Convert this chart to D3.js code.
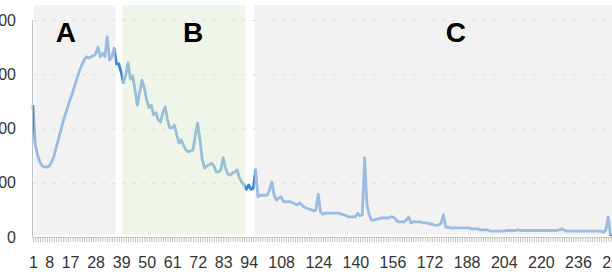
<!DOCTYPE html>
<html>
<head>
<meta charset="utf-8">
<script src="https://cdn.jsdelivr.net/npm/d3@7"></script>
<style>
  body { margin: 0; background: #fff; }
  svg { display: block; font-family: "Liberation Sans", Arial, sans-serif; }
</style>
</head>
<body>
<svg id="chart" width="612" height="276"></svg>
<script>
// values, one per category (1..252)
const values = [
    243, 170, 151, 138, 131, 129, 129, 131, 138, 148,
    165, 181, 197, 213, 227, 240, 253, 265, 279, 293,
    306, 316, 326, 332, 330, 332, 334, 337, 350, 332,
    339, 332, 369, 326, 332, 348, 319, 319, 304, 284,
    299, 321, 291, 297, 271, 243, 267, 289, 275, 253,
    238, 243, 225, 229, 216, 212, 229, 240, 216, 201,
    201, 206, 188, 173, 179, 168, 160, 157, 159, 160,
    188, 210, 179, 142, 127, 131, 133, 136, 131, 120,
    120, 124, 146, 127, 116, 114, 118, 120, 124, 109,
    101, 96, 88, 96, 88, 90, 124, 74, 77, 77,
    77, 77, 87, 101, 77, 68, 72, 74, 65, 65,
    65, 65, 63, 61, 59, 63, 59, 55, 53, 52,
    50, 48, 50, 79, 46, 42, 44, 44, 44, 44,
    44, 44, 44, 42, 41, 39, 37, 37, 37, 37,
    44, 39, 41, 146, 59, 41, 31, 31, 33, 33,
    35, 35, 35, 35, 37, 37, 35, 29, 28, 28,
    28, 31, 37, 26, 28, 28, 28, 28, 26, 26,
    26, 24, 24, 22, 22, 22, 26, 41, 18, 18,
    17, 17, 17, 17, 17, 17, 17, 17, 17, 15,
    15, 15, 15, 13, 13, 13, 13, 11, 11, 11,
    11, 11, 11, 11, 12, 12, 12, 12, 12, 13,
    12, 12, 12, 12, 12, 12, 12, 12, 12, 12,
    12, 12, 12, 12, 12, 12, 12, 13, 15, 13,
    11, 11, 11, 11, 11, 11, 11, 11, 11, 11,
    11, 11, 11, 11, 11, 11, 9, 12, 37, 4,
    5, 5
];
const categories = values.map((v, i) => i + 1);
const xLabels = [1, 8, 17, 28, 39, 50, 61, 72, 83, 94, 108, 124, 140, 156, 172, 188, 204, 220, 236, 252];
const yTicks = [0, 100, 200, 300, 400];

// shaded phases: [name, first category, last category]
const phaseNames = ['A', 'B', 'C'];
const phaseStart = [2, 40, 97];
const phaseEnd = [36, 92, 260];

const svg = d3.select('#chart');
const step = 2.319;
const x0 = 33;

const x = d3.scaleLinear()
    .domain([1, 252])
    .range([x0, x0 + 251 * step]);
const y = d3.scaleLinear()
    .domain([0, 400])
    .range([237, 20]);

// dashed grid
svg.append('g').selectAll('line').data(yTicks.slice(1)).enter().append('line')
    .attr('x1', 32).attr('x2', 612)
    .attr('y1', d => y(d) + 0.5).attr('y2', d => y(d) + 0.5)
    .attr('stroke', '#dcdcdc')
    .attr('stroke-dasharray', '4,6');

// series line
const line = d3.line()
    .x((d, i) => x(categories[i]))
    .y(d => y(d));

svg.append('path')
    .datum(values)
    .attr('fill', 'none')
    .attr('stroke', '#3a85d9')
    .attr('stroke-width', 2.8)
    .attr('stroke-linejoin', 'round')
    .attr('d', line);

// phase overlays (drawn on top, so the line looks paler inside them)
const fills = ['rgb(232,232,232)', 'rgb(226,237,214)', 'rgb(232,232,232)'];
svg.append('g').selectAll('rect').data(phaseNames).enter().append('rect')
    .attr('x', (d, i) => x(phaseStart[i]) - step / 2)
    .attr('width', (d, i) => x(phaseEnd[i]) - x(phaseStart[i]) + step)
    .attr('y', 5)
    .attr('height', 230)
    .attr('fill', (d, i) => fills[i])
    .attr('fill-opacity', 0.56);

// letters sit at these categories
const letterAt = [15.2, 70, 183.4];
svg.append('g').selectAll('text').data(phaseNames).enter().append('text')
    .attr('x', (d, i) => x(letterAt[i]))
    .attr('y', 42)
    .attr('text-anchor', 'middle')
    .attr('font-size', 28)
    .attr('font-weight', 'bold')
    .attr('fill', '#000')
    .text(d => d);

// x axis: a tick at every category, labels on some
const xAxis = d3.axisBottom(x)
    .tickValues(categories)
    .tickSize(5)
    .tickFormat(d => xLabels.includes(d) ? d : '');

const gx = svg.append('g')
    .attr('transform', 'translate(0,237)')
    .call(xAxis);
gx.select('.domain').attr('stroke', '#c8c8c8');
gx.selectAll('.tick line').attr('stroke', '#c4c4c4');
gx.selectAll('.tick text')
    .attr('y', 20)
    .attr('font-size', 16)
    .attr('fill', '#333')
    .attr('font-family', '"Liberation Sans", Arial, sans-serif');

// y axis
const gy = svg.append('g')
    .attr('transform', 'translate(32,0)')
    .call(d3.axisLeft(y).tickValues(yTicks).tickSize(0).tickPadding(16));
gy.select('.domain').attr('stroke', '#b8c0cc');
gy.selectAll('.tick text')
    .attr('font-size', 16)
    .attr('fill', '#333')
    .attr('font-family', '"Liberation Sans", Arial, sans-serif');
</script>
</body>
</html>
